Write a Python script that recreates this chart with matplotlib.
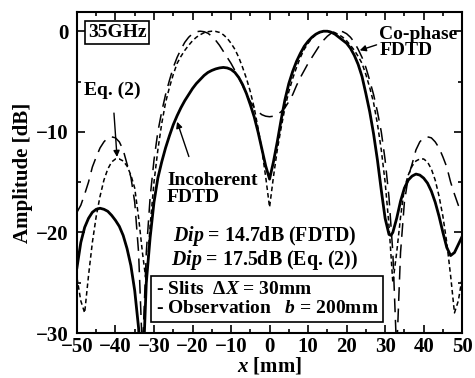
import matplotlib
matplotlib.use("Agg")
import matplotlib.pyplot as plt
from matplotlib.ticker import MultipleLocator

plt.rcParams['font.family'] = ['Liberation Serif', 'DejaVu Serif']
plt.rcParams['font.weight'] = 'bold'
plt.rcParams['axes.labelweight'] = 'bold'
plt.rcParams['mathtext.fontset'] = 'custom'
plt.rcParams['mathtext.rm'] = 'Liberation Serif:bold'
plt.rcParams['mathtext.it'] = 'Liberation Serif:italic:bold'
plt.rcParams['mathtext.bf'] = 'Liberation Serif:bold'

# Eq. (2), dotted
x_eq = list(range(-50, 51))
amp_eq = [-24.5, -26.8, -28.0, -24.3, -21.0, -18.4, -16.4, -14.8, -13.7, -13.0,
          -12.7, -12.7, -12.9, -13.4, -14.3, -15.6, -18.5, -22.0, -25.0, -19.3,
          -15.0, -11.8, -9.2, -7.1, -5.6, -4.3, -3.2, -2.5, -1.9, -1.4,
          -0.95, -0.6, -0.35, -0.15, -0.05, 0.0, -0.02, -0.12, -0.35, -0.7,
          -1.2, -1.8, -2.6, -3.6, -4.7, -6.0, -7.6, -9.6, -11.8, -14.5,
          -17.5,
          -14.5, -11.8, -9.6, -7.6, -6.0, -4.7, -3.6, -2.6, -1.8, -1.2,
          -0.7, -0.35, -0.12, -0.02, 0.0, -0.05, -0.15, -0.35, -0.6, -0.95,
          -1.4, -1.9, -2.5, -3.2, -4.3, -5.6, -7.1, -9.2, -11.8, -15.0,
          -19.3, -25.0, -22.0, -18.5, -15.6, -14.3, -13.4, -12.9, -12.7, -12.7,
          -13.0, -13.7, -14.8, -16.4, -18.4, -21.0, -24.3, -28.0, -26.8, -24.5]

# Co-phase FDTD, long dashes
x_co = list(range(-50, 51))
amp_co = [-18.0, -17.3, -16.2, -15.0, -13.5, -12.5, -11.6, -11.0, -10.6, -10.5,
          -10.6, -11.0, -11.8, -13.2, -14.5, -17.0, -22.0, -32.0, -22.0, -16.5,
          -12.8, -10.0, -8.0, -6.3, -4.9, -3.6, -2.6, -1.8, -1.1, -0.6,
          -0.25, -0.05, 0.0, -0.05, -0.2, -0.5, -0.9, -1.4, -2.0, -2.6,
          -3.2, -3.9, -4.6, -5.4, -6.3, -7.0, -7.6, -8.0, -8.3, -8.45,
          -8.5,
          -8.45, -8.3, -8.0, -7.6, -7.0, -6.3, -5.4, -4.6, -3.9, -3.2,
          -2.6, -2.0, -1.4, -0.9, -0.5, -0.2, -0.05, 0.0, -0.05, -0.25,
          -0.6, -1.1, -1.8, -2.6, -3.6, -4.9, -6.3, -8.0, -10.0, -12.8,
          -16.5, -22.0, -32.0, -22.0, -17.0, -14.5, -13.2, -11.8, -11.0, -10.6,
          -10.5, -10.6, -11.0, -11.6, -12.5, -13.5, -15.0, -16.2, -17.3, -18.0]

# Incoherent FDTD, solid
x_inc = [-50, -49, -48, -47, -46, -45, -44, -43, -42, -41, -40, -39, -38, -37,
         -36, -35, -34, -33.5, -33, -32.5, -32, -31, -30, -29, -28, -27, -26,
         -25, -24, -23, -22, -21, -20, -19, -18, -17, -16, -15, -14, -13, -12,
         -11, -10, -9, -8, -7, -6, -5, -4, -3, -2, -1, 0, 1, 2, 3, 4, 5, 6, 7,
         8, 9, 10, 11, 12, 13, 14, 15, 16, 17, 18, 19, 20, 21, 22, 23, 24, 25,
         26, 27, 28, 29, 30, 31, 31.5, 32, 33, 34, 35, 36, 37, 38, 39, 40, 41,
         42, 43, 44, 45, 46, 47, 48, 49, 50]
amp_inc = [-23.5, -21.0, -19.5, -18.6, -18.0, -17.7, -17.6, -17.7, -17.9, -18.3,
           -18.8, -19.4, -20.3, -21.6, -23.3, -25.8, -29.5, -33.0, -34.0, -30.0,
           -25.0, -20.5, -17.0, -14.6, -13.0, -11.6, -10.4, -9.3, -8.4, -7.6,
           -6.9, -6.3, -5.7, -5.2, -4.8, -4.4, -4.1, -3.9, -3.75, -3.65, -3.6,
           -3.65, -3.8, -4.1, -4.6, -5.3, -6.2, -7.3, -8.5, -10.0, -11.7, -13.4,
           -14.7, -13.0, -11.0, -8.8, -6.8, -5.2, -4.0, -3.0, -2.2, -1.5, -1.0,
           -0.6, -0.3, -0.1, 0.0, 0.0, -0.1, -0.3, -0.6, -0.9, -1.2, -1.7, -2.4,
           -3.3, -4.5, -6.2, -8.0, -10.2, -12.8, -15.8, -18.6, -20.2, -20.3,
           -20.0, -18.6, -16.9, -15.6, -14.8, -14.4, -14.2, -14.3, -14.6, -15.1,
           -15.9, -17.0, -18.4, -20.0, -21.5, -22.3, -22.0, -21.2, -20.4]

fig = plt.figure(figsize=(4.75, 3.78), dpi=100)
ax = fig.add_axes([0.162, 0.119, 0.811, 0.849])

ax.plot(x_co, amp_co, color='black', lw=1.1, dashes=(9, 5))
ax.plot(x_eq, amp_eq, color='black', lw=1.1, dashes=(3, 2))
ax.plot(x_inc, amp_inc, color='black', lw=2.0)

ax.set_xlim(-50, 50)
ax.set_ylim(-30, 1.9)
ax.xaxis.set_major_locator(MultipleLocator(10))
ax.xaxis.set_minor_locator(MultipleLocator(5))
ax.yaxis.set_major_locator(MultipleLocator(10))
ax.yaxis.set_minor_locator(MultipleLocator(5))
ax.tick_params(which='both', direction='in', top=True, right=True, width=1.2,
               labelsize=15)
ax.tick_params(axis='x', pad=3)
ax.tick_params(axis='y', pad=6)
ax.tick_params(which='major', length=6)
ax.tick_params(which='minor', length=3)
for s in ax.spines.values():
    s.set_linewidth(1.5)

ax.set_xlabel('$\\mathit{x}$ [mm]', fontsize=15, labelpad=-1)
ax.set_ylabel('Amplitude [dB]', fontsize=15, labelpad=2)

ax.text(-39.6, -0.15, '35GHz', fontsize=14, ha='center', va='center',
        bbox=dict(boxstyle='square,pad=0.15', fc='white', ec='black', lw=1.2))

ax.annotate('Eq. (2)', xy=(-39.6, -12.5), xytext=(-40.8, -5.9), fontsize=14,
            ha='center', va='center',
            arrowprops=dict(arrowstyle='-|>', color='black', lw=1.0,
                            mutation_scale=9, shrinkA=8, shrinkB=0))
ax.annotate('Incoherent\nFDTD', xy=(-24.0, -9.0), xytext=(-26.6, -15.7),
            fontsize=14, ha='left', va='center', linespacing=0.95,
            arrowprops=dict(arrowstyle='-|>', color='black', lw=1.0,
                            mutation_scale=9, shrinkA=10, shrinkB=0,
                            relpos=(0.3, 1.0)))
ax.annotate('Co-phase\nFDTD', xy=(23.4, -1.9), xytext=(28.5, -1.1),
            fontsize=14, ha='left', va='center', linespacing=0.95,
            arrowprops=dict(arrowstyle='-|>', color='black', lw=1.0,
                            mutation_scale=9, shrinkA=0, shrinkB=0,
                            relpos=(0.0, 0.45)))

ax.text(-1.2, -20.4, '$\\mathit{Dip}$ = 14.7dB (FDTD)', fontsize=14.3,
        ha='center', va='center')
ax.text(-1.2, -22.7, '$\\mathit{Dip}$ = 17.5dB (Eq. (2))', fontsize=14.3,
        ha='center', va='center')

ax.text(-29.6, -26.6,
        '- Slits  $\\mathit{ΔX}$ = 30mm\n- Observation   $\\mathit{b}$ = 200mm',
        fontsize=14, ha='left', va='center', linespacing=1.15,
        bbox=dict(boxstyle='square,pad=0.25', fc='white', ec='black', lw=1.2))

fig.savefig('out.png', dpi=100)
